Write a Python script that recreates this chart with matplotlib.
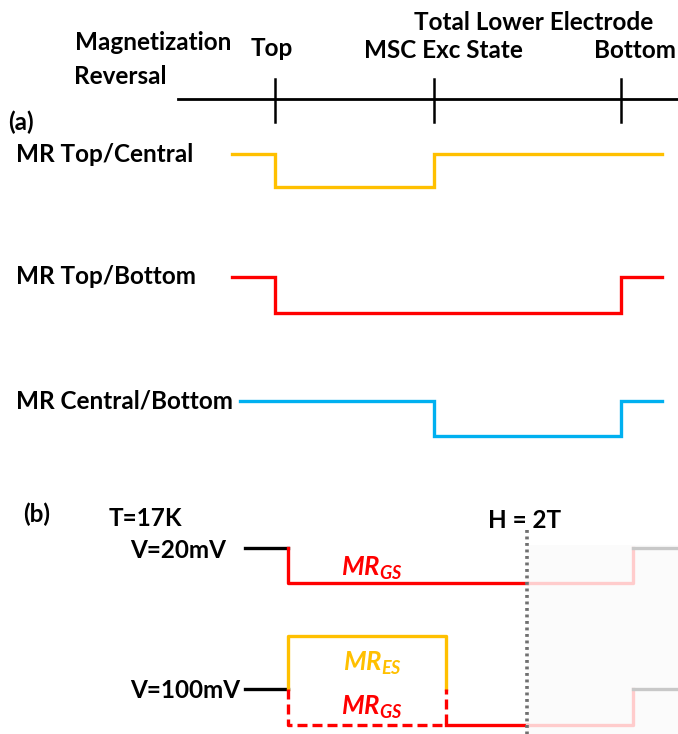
import matplotlib.pyplot as plt

# field positions of the events (schematic units, panel a)
field_a = [232, 275, 434, 621, 662]
events = ["Top", "MSC Exc State", "Bottom"]
event_pos = [275, 434, 621]

# MR level per field segment (1 = high, 0 = low)
mr_labels = ["MR Top/Central", "MR Top/Bottom", "MR Central/Bottom"]
mr_colors = ["#FFC000", "#FF0000", "#00B0F0"]
mr_levels = [[1, 0, 1, 1], [1, 0, 0, 1], [1, 1, 0, 1]]
mr_base = [154, 277, 401]
mr_drop = [33, 36, 35]

# panel b segments
field_b = [245, 288, 446, 527, 633, 678]
h_switch = 527

plt.rcParams['font.family'] = ['Lato', 'DejaVu Sans']
plt.rcParams['mathtext.fontset'] = 'custom'
plt.rcParams['mathtext.it'] = 'Lato:italic:bold'
plt.rcParams['mathtext.rm'] = 'Lato:bold'
fig = plt.figure(figsize=(6.78, 7.34), dpi=100)
ax = fig.add_axes([0, 0, 1, 1])
ax.set_xlim(0, 678)
ax.set_ylim(734, 0)
ax.axis('off')

fs = 17.5
tk = dict(fontsize=fs, fontweight='bold', color='black')

# ---- panel (a) ----
ax.plot([178, 678], [99, 99], color='black', lw=2)
for p in event_pos:
    ax.plot([p, p], [79, 122], color='black', lw=1.8)
ax.text(153, 43, "Magnetization", ha='center', va='center', **tk)
ax.text(120, 76, "Reversal", ha='center', va='center', **tk)
ax.text(272, 48, events[0], ha='center', va='center', **tk)
ax.text(443, 50, events[1], ha='center', va='center', **tk)
ax.text(534, 22, "Total Lower Electrode", ha='center', va='center', **tk)
ax.text(635, 50, events[2], ha='center', va='center', **tk)
ax.text(8, 122, "(a)", ha='left', va='center', **tk)

for lab, col, lev, base, drop in zip(mr_labels, mr_colors, mr_levels, mr_base, mr_drop):
    xs, ys = [], []
    start = field_a[0] if col != "#00B0F0" else 240
    for i, l in enumerate(lev):
        y = base if l else base + drop
        x0 = start if i == 0 else field_a[i]
        xs += [x0, field_a[i + 1]]
        ys += [y, y]
    ax.plot(xs, ys, color=col, lw=2.4, solid_joinstyle='miter')
    ax.text(16, base, lab, ha='left', va='center', **tk)

# ---- panel (b) ----
ax.fill_between([h_switch, 678], 545, 734, color='#fbfbfb', lw=0, zorder=0)
ax.plot([h_switch, h_switch], [530, 734], color='#707070', lw=2.6,
        ls=(0, (0.8, 1.0)), zorder=5)
ax.text(23, 514, "(b)", ha='left', va='center', **tk)
ax.text(145, 518, "T=17K", ha='center', va='center', **tk)
ax.text(525, 520, "H = 2T", ha='center', va='center', **tk)

lw = 2.4
# V = 20 mV
hi, lo = 548, 583
ax.text(130, 550, "V=20mV", ha='left', va='center', **tk)
ax.plot([field_b[0], field_b[1]], [hi, hi], color='black', lw=lw)
ax.plot([field_b[1], field_b[1], field_b[3]], [hi, lo, lo], color='#FF0000', lw=lw)
ax.plot([field_b[3], field_b[4], field_b[4]], [lo, lo, hi], color='#FFCCCC', lw=lw)
ax.plot([field_b[4], field_b[5]], [hi, hi], color='#C8C8C8', lw=lw)
ax.text(372, 568, r"$\mathit{MR}_{\mathit{GS}}$", color='#FF0000',
        ha='center', va='center', fontsize=fs + 1)

# V = 100 mV
mid, up, dn = 689, 636, 725
ax.text(130, 690, "V=100mV", ha='left', va='center', **tk)
ax.plot([field_b[0], field_b[1]], [mid, mid], color='black', lw=lw)
ax.plot([field_b[1], field_b[1], field_b[2], field_b[2]], [mid, up, up, mid],
        color='#FFC000', lw=lw)
ax.plot([field_b[1], field_b[1], field_b[2], field_b[2]], [mid, dn, dn, mid],
        color='#FF0000', lw=lw, ls=(0, (3, 1.5)))
ax.plot([field_b[2], field_b[3]], [dn, dn], color='#FF0000', lw=lw)
ax.plot([field_b[3], field_b[4], field_b[4]], [dn, dn, mid], color='#FFCCCC', lw=lw)
ax.plot([field_b[4], field_b[5]], [mid, mid], color='#C8C8C8', lw=lw)
ax.text(372, 663, r"$\mathit{MR}_{\mathit{ES}}$", color='#FFC000',
        ha='center', va='center', fontsize=fs + 1)
ax.text(372, 707, r"$\mathit{MR}_{\mathit{GS}}$", color='#FF0000',
        ha='center', va='center', fontsize=fs + 1)

fig.savefig("out.png", dpi=100)
